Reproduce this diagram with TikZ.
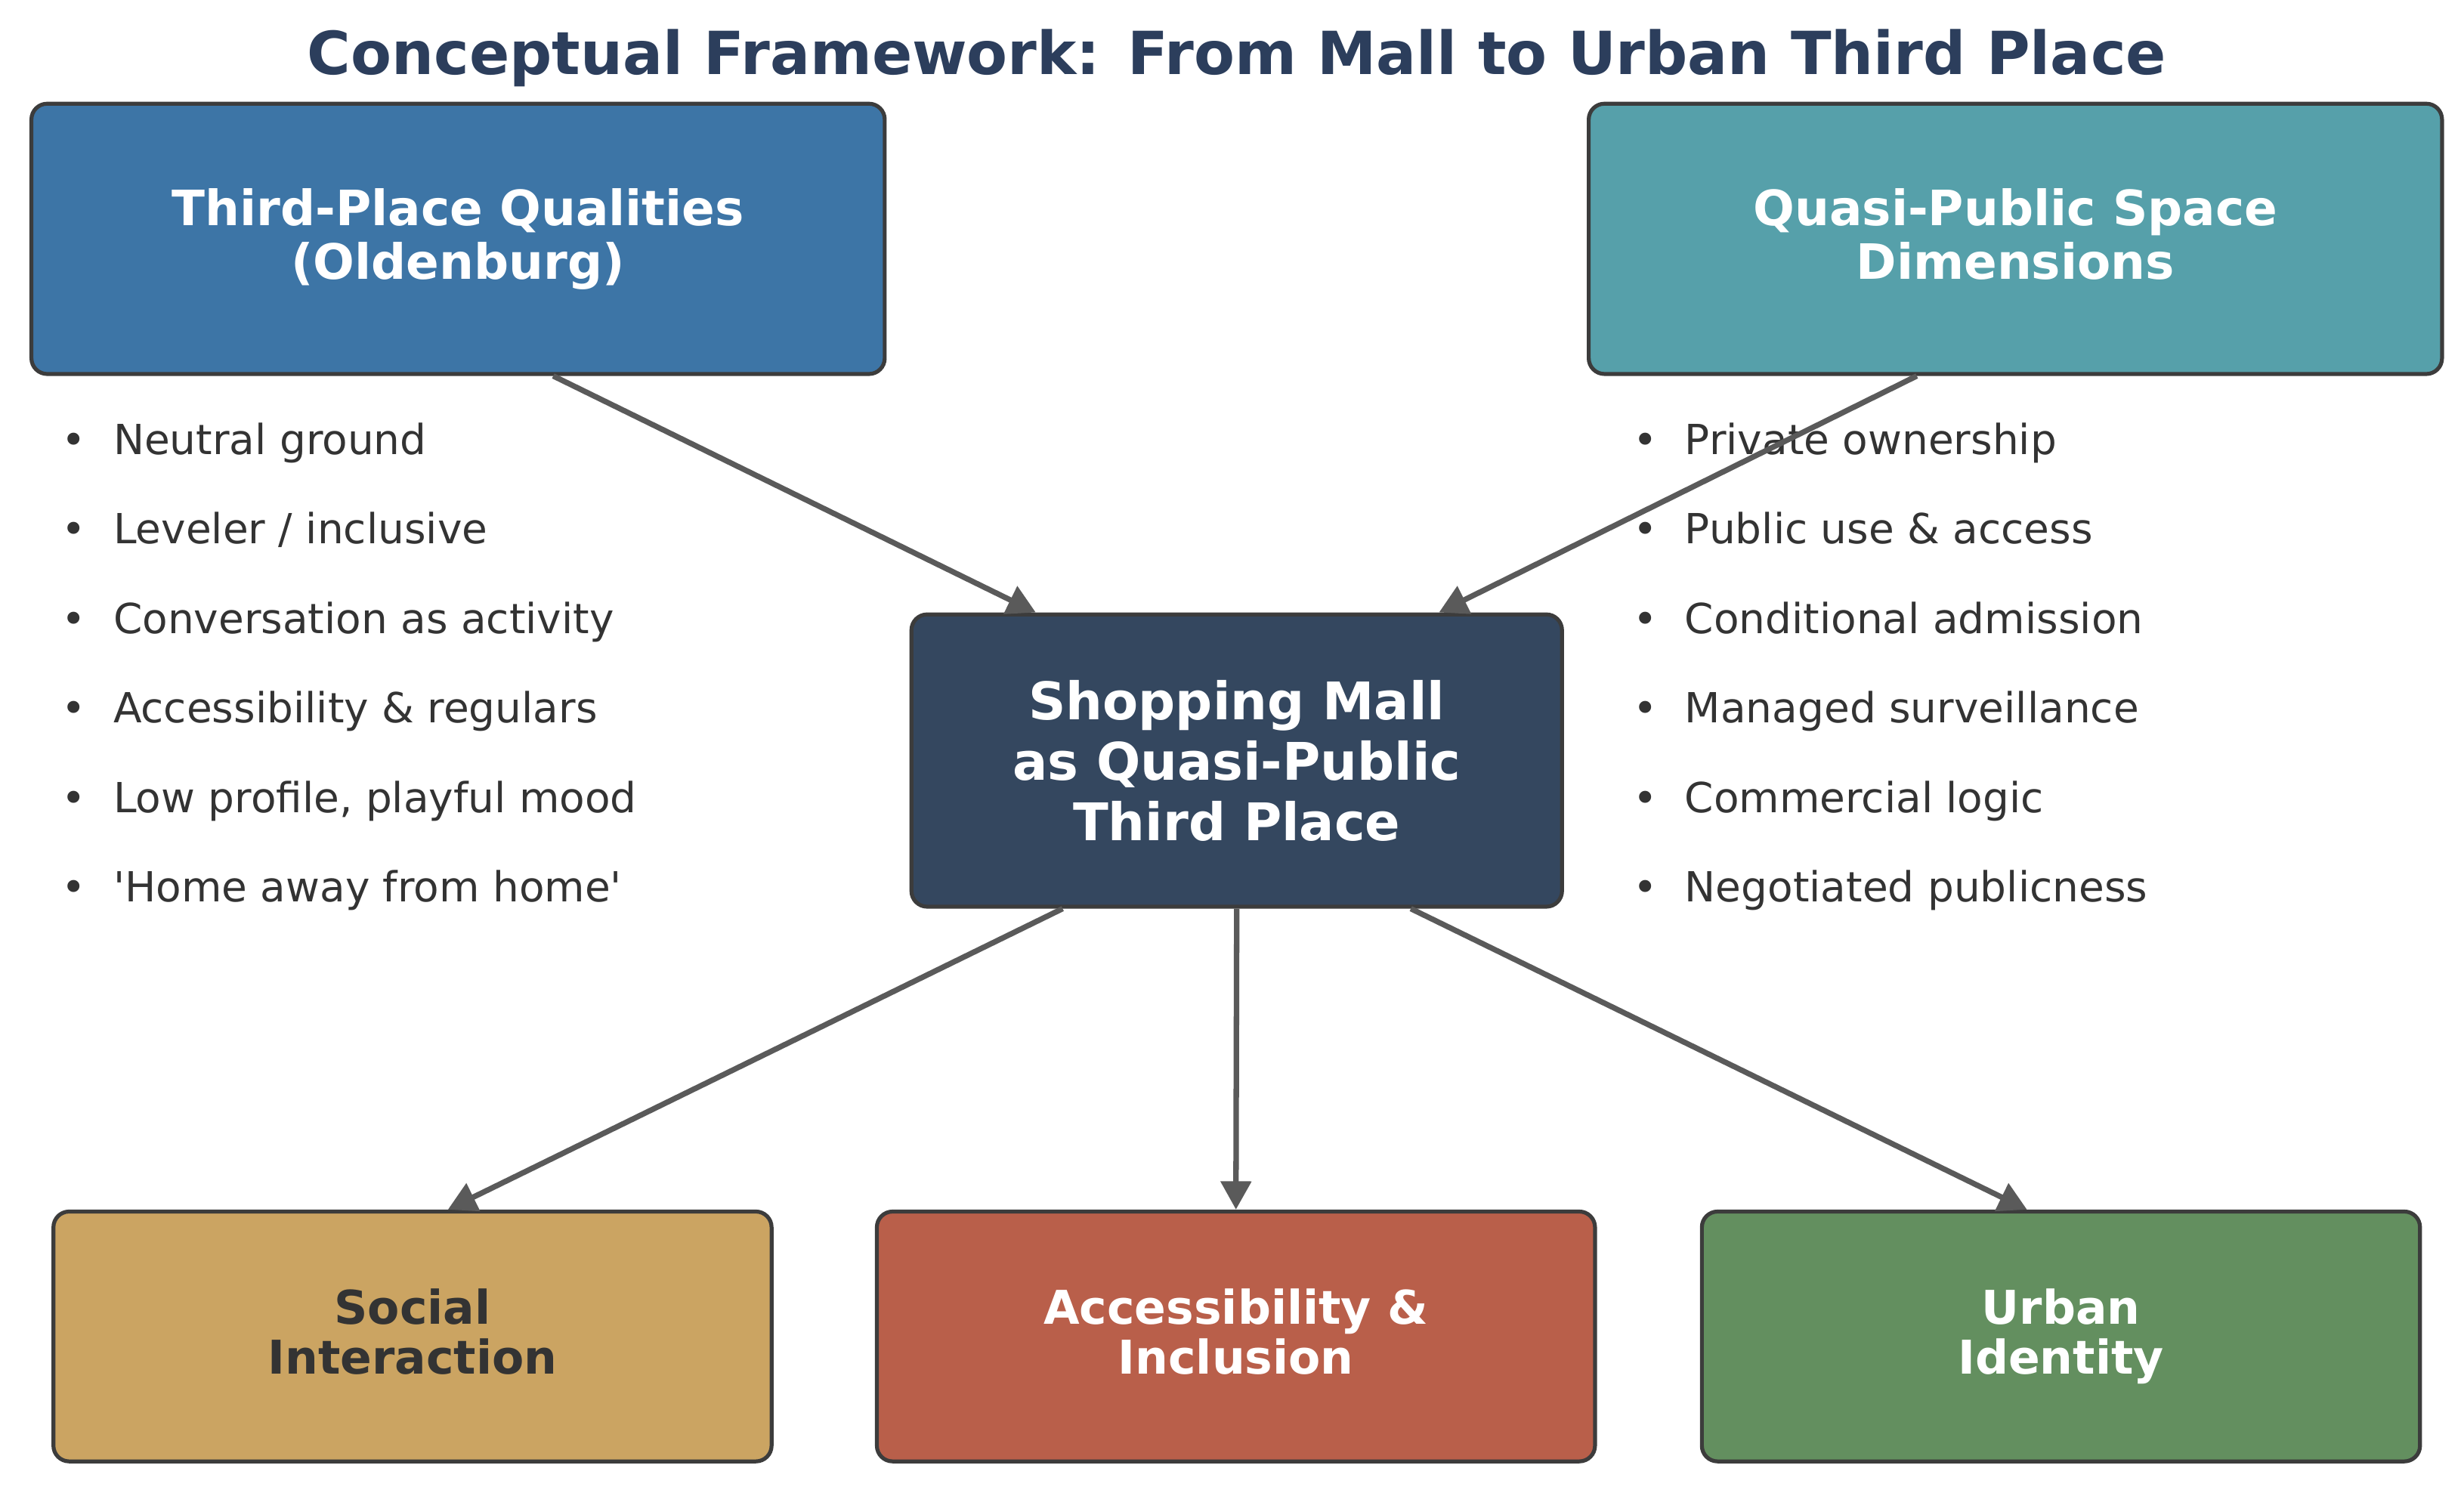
\documentclass[tikz,border=0pt]{standalone}
\usepackage{fontspec}
\setmainfont{DejaVu Sans}[Ligatures=TeXOff]
\usetikzlibrary{calc,arrows.meta}
\definecolor{titlec}{HTML}{2C3E5C}
\definecolor{tlc}{HTML}{3D75A6}
\definecolor{trc}{HTML}{56A0AA}
\definecolor{cc}{HTML}{34475F}
\definecolor{sc}{HTML}{CBA462}
\definecolor{ac}{HTML}{B95F4A}
\definecolor{uc}{HTML}{638F5F}
\definecolor{bordc}{HTML}{3C3C3C}
\definecolor{arrc}{HTML}{5A5A5A}
\definecolor{txtc}{HTML}{333333}
\tikzset{
  box/.style={draw=bordc, line width=2.5pt, rounded corners=10pt, align=center, inner sep=0pt, font=\bfseries},
  arr/.style={draw=arrc, line width=3.5pt, -{Triangle[length=18pt,width=19pt]}},
  itemtxt/.style={anchor=base west, inner sep=0pt, text=txtc, font=\fontsize{26.4}{30}\selectfont},
  bul/.style={anchor=base, inner sep=0pt, text=txtc, font=\fontsize{26.4}{30}\selectfont}
}
\begin{document}
\begin{tikzpicture}[x=1pt,y=-1pt]
\useasboundingbox (0,0) rectangle (1568,950);
\node[inner sep=0pt, text=titlec, font=\fontsize{37.8}{44}\selectfont\bfseries] (title) at (787,37) {Conceptual Framework: From Mall to Urban Third Place};
\node[box, fill=tlc, text=white, minimum width=543pt, minimum height=172pt, font=\fontsize{31}{34}\selectfont\bfseries] (tl) at (291.5,152) {Third-Place Qualities\\(Oldenburg)};
\node[box, fill=trc, text=white, minimum width=543pt, minimum height=172pt, font=\fontsize{31}{34}\selectfont\bfseries] (tr) at (1282.5,152) {Quasi-Public Space\\Dimensions\vphantom{(g}};
\node[box, fill=cc, text=white, minimum width=414pt, minimum height=186pt, font=\fontsize{33}{38.5}\selectfont\bfseries] (c) at (787,484) {Shopping Mall\\as Quasi-Public\\Third Place};
\node[box, fill=sc, text=txtc, minimum width=457pt, minimum height=159pt, font=\fontsize{29.6}{32}\selectfont\bfseries] (s) at (262.5,850.5) {Social\\Interaction\vphantom{y}};
\node[box, fill=ac, text=white, minimum width=457pt, minimum height=159pt, font=\fontsize{29.6}{32}\selectfont\bfseries] (a) at (786.5,850.5) {Accessibility \&\\Inclusion\vphantom{y}};
\node[box, fill=uc, text=white, minimum width=457pt, minimum height=159pt, font=\fontsize{29.6}{32}\selectfont\bfseries] (u) at (1311.5,850.5) {Urban\\Identity};
\foreach \t [count=\i] in {Neutral ground, Leveler / inclusive, Conversation as activity, Accessibility \& regulars, {Low profile, playful mood}, 'Home away from home'} {
  \node[bul] (lb\i) at (47,{289+(\i-1)*57}) {•};
  \node[itemtxt] (lt\i) at (72,{289+(\i-1)*57}) {\t};
}
\foreach \t [count=\i] in {Private ownership, Public use \& access, Conditional admission, Managed surveillance, Commercial logic, Negotiated publicness} {
  \node[bul] (rb\i) at (1047,{289+(\i-1)*57}) {•};
  \node[itemtxt] (rt\i) at (1072,{289+(\i-1)*57}) {\t};
}
\draw[arr] ($(tl.south west)!0.611!(tl.south east)$) -- ($(c.north west)!0.193!(c.north east)$);
\draw[arr] ($(tr.south west)!0.385!(tr.south east)$) -- ($(c.north west)!0.809!(c.north east)$);
\draw[arr] ($(c.south west)!0.234!(c.south east)$) -- ($(s.north west)!0.549!(s.north east)$);
\draw[arr] (c.south) -- (a.north);
\draw[arr] ($(c.south west)!0.766!(c.south east)$) -- ($(u.north west)!0.453!(u.north east)$);
\end{tikzpicture}
\end{document}
